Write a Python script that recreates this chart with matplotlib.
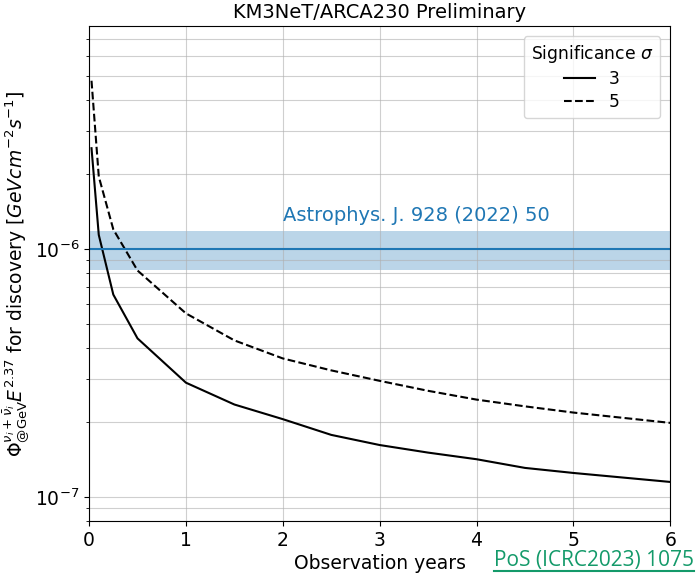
import matplotlib
matplotlib.use("Agg")
import matplotlib.pyplot as plt

# observation time in years
years = [0.025, 0.1, 0.25, 0.5, 1.0, 1.5, 2.0, 2.5, 3.0, 3.5, 4.0, 4.5, 5.0, 6.0]
# discovery flux for 3 sigma and 5 sigma
flux_3sigma = [2.55e-6, 1.14e-6, 6.55e-7, 4.36e-7, 2.89e-7, 2.36e-7, 2.06e-7,
               1.78e-7, 1.62e-7, 1.51e-7, 1.42e-7, 1.31e-7, 1.25e-7, 1.15e-7]
flux_5sigma = [4.77e-6, 1.96e-6, 1.20e-6, 8.19e-7, 5.50e-7, 4.28e-7, 3.62e-7,
               3.24e-7, 2.94e-7, 2.68e-7, 2.47e-7, 2.32e-7, 2.19e-7, 1.99e-7]
# measured flux from Astrophys. J. 928 (2022) 50
ref_flux = 1.0e-6
ref_low = 8.2e-7
ref_high = 1.18e-6

fig = plt.figure(figsize=(6.96, 5.74), dpi=100)
ax = fig.add_axes([0.128, 0.0923, 0.835, 0.8624])

ax.plot(years, flux_3sigma, color="black", ls="-", lw=1.5, label="3")
ax.plot(years, flux_5sigma, color="black", ls="--", lw=1.5, label="5")

ax.axhspan(ref_low, ref_high, color="tab:blue", alpha=0.3, lw=0)
ax.axhline(ref_flux, color="tab:blue", lw=1.5)
ax.text(2.0, 1.25e-6, "Astrophys. J. 928 (2022) 50", color="tab:blue",
        fontsize=14, va="bottom", ha="left")

ax.set_yscale("log")
ax.set_xlim(0, 6)
ax.set_ylim(8.0e-8, 7.93e-6)
ax.grid(True, which="both", color="#b0b0b0", lw=0.8, alpha=0.6)
ax.tick_params(axis="both", which="major", labelsize=13.5)

ax.set_title("KM3NeT/ARCA230 Preliminary", fontsize=14)
ax.set_xlabel("Observation years", fontsize=13.5, labelpad=3)
ax.set_ylabel(r"$\Phi^{\nu_i+\bar{\nu}_i}_{\rm @GeV}E^{2.37}$ for discovery [$GeVcm^{-2}s^{-1}$]",
              fontsize=13.5, labelpad=2)

ax.legend(title=r"Significance $\sigma$", fontsize=12.3, title_fontsize=12.3,
          loc="upper right", handlelength=1.8, labelspacing=0.3,
          borderaxespad=0.6)

# reference note in the corner
fig.text(0.71, 0.014, "PoS (ICRC2023) 1075", color="#149a6a", fontsize=15,
         family="Open Sans", ha="left", va="baseline")
fig.add_artist(plt.Line2D([0.71, 0.997], [0.005, 0.005], color="#149a6a", lw=1.5,
                          transform=fig.transFigure))

fig.savefig("out.png", dpi=100)
